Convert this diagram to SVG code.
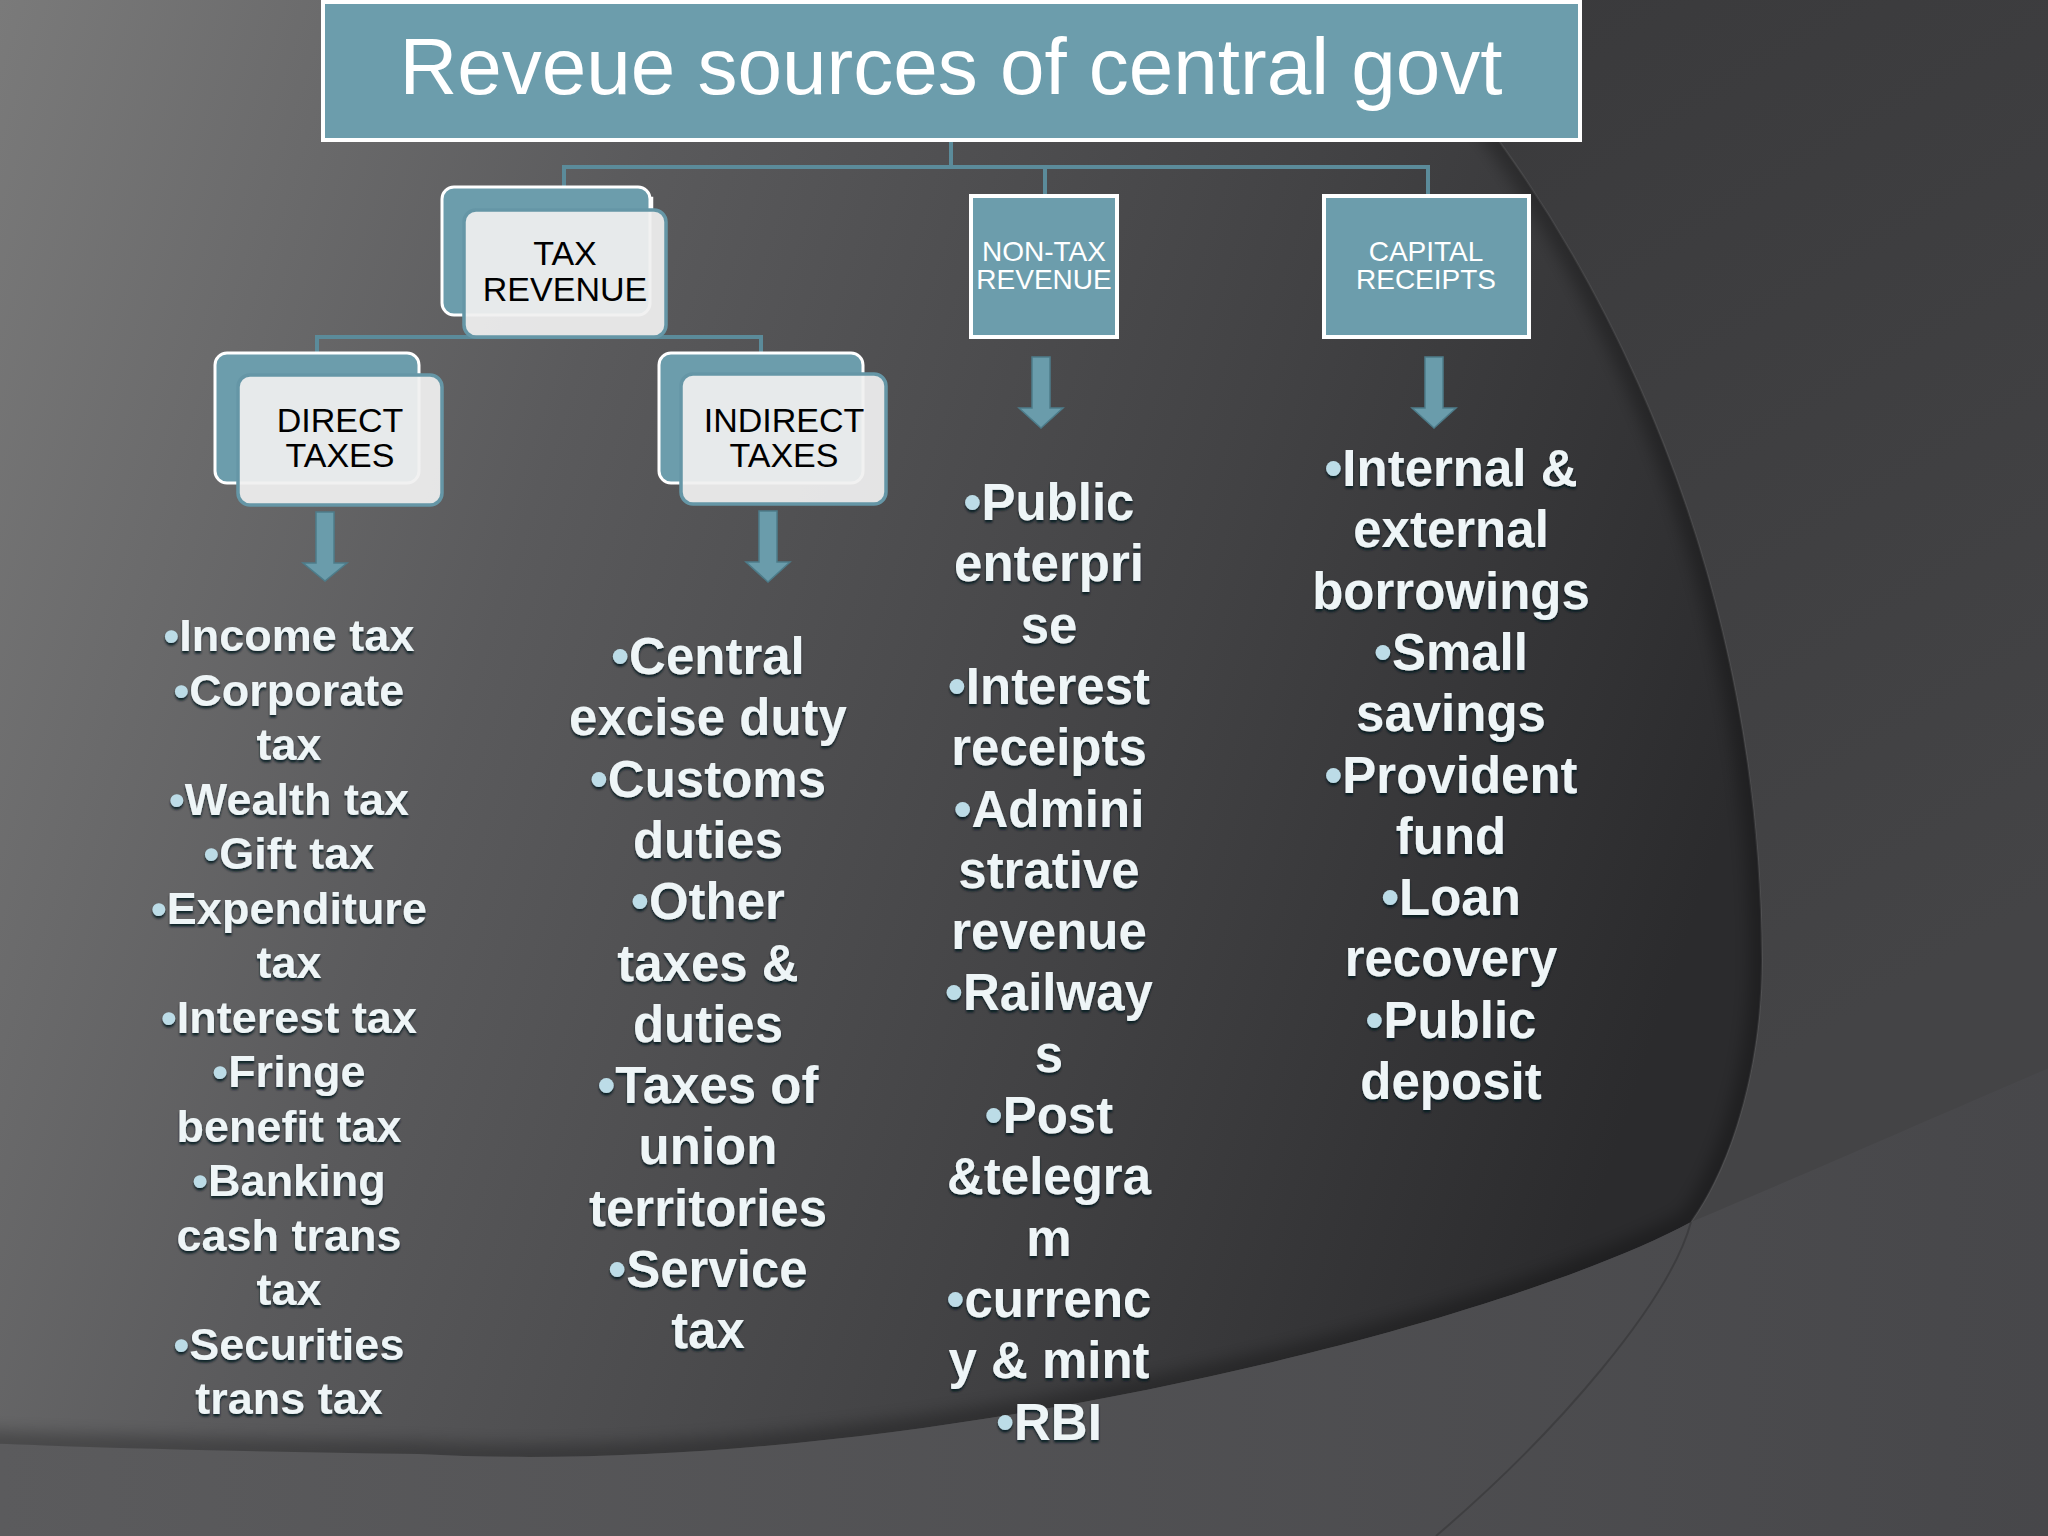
<svg xmlns="http://www.w3.org/2000/svg" width="2048" height="1536" viewBox="0 0 2048 1536">
<defs>
<style>
.node-text{font-family:"Liberation Sans",Arial,sans-serif;text-anchor:middle}
.title-text{font-family:"Liberation Sans",Arial,sans-serif;font-size:80px;fill:#ffffff;text-anchor:middle}
.back{fill:#6c9dac;stroke:#ffffff;stroke-width:3}
.front{fill:#f0f0f0;fill-opacity:0.93;stroke:#6596a6;stroke-width:3.5}
.dark{font-size:34px;fill:#000000}
.box{fill:#6c9dac;stroke:#ffffff;stroke-width:4}
.light{font-size:28px;fill:#ffffff}
.conn{fill:none;stroke:#5b8b9a;stroke-width:4}
.arrow{fill:#6a9cab;stroke:#4d7c8a;stroke-width:1.5}
.list{font-family:"Liberation Sans",Arial,sans-serif;font-weight:bold;fill:#eef5f7;text-anchor:middle;filter:url(#txtfx)}
.s45{font-size:45px}
.s51{font-size:51px}
.b{fill:#bcdce7}
</style>
<linearGradient id="bgOut" x1="1500" y1="0" x2="2048" y2="900" gradientUnits="userSpaceOnUse">
<stop offset="0" stop-color="#3a3a3c"/><stop offset="1" stop-color="#444446"/>
</linearGradient>
<linearGradient id="lensG" x1="0" y1="0" x2="1800" y2="600" gradientUnits="userSpaceOnUse">
<stop offset="0" stop-color="#7a7a7a"/><stop offset="0.35" stop-color="#5a5a5c"/><stop offset="0.7" stop-color="#424244"/><stop offset="1" stop-color="#2b2b2d"/>
</linearGradient>
<linearGradient id="bandG" x1="0" y1="0" x2="2048" y2="0" gradientUnits="userSpaceOnUse">
<stop offset="0" stop-color="#5b5b5d"/><stop offset="1" stop-color="#47474a"/>
</linearGradient>
<clipPath id="lensClip"><path d="M -20,-20 L 1360,-20 L 1380,0 C 1560,180 1760,520 1762,960 C 1762,1060 1735,1160 1691,1222 C 1500,1325 900,1480 418,1454 C 250,1452 100,1448 -20,1443 Z"/></clipPath>
<filter id="blur8" x="-10%" y="-10%" width="120%" height="120%"><feGaussianBlur stdDeviation="8"/></filter>
<filter id="txtfx" x="-10%" y="-20%" width="120%" height="140%">
<feDropShadow dx="0" dy="2.5" stdDeviation="1.2" flood-color="#06141a" flood-opacity="0.85"/>
</filter>
</defs>

<g id="background">
<rect x="0" y="0" width="2048" height="1536" fill="url(#bgOut)"/>
<path d="M -20,-20 L 1360,-20 L 1380,0 C 1560,180 1760,520 1762,960 C 1762,1060 1735,1160 1691,1222 C 1500,1325 900,1480 418,1454 C 250,1452 100,1448 -20,1443 Z" fill="url(#lensG)"/>
<g clip-path="url(#lensClip)">
<path d="M 1380,0 C 1560,180 1760,520 1762,960 C 1762,1060 1735,1160 1691,1222 C 1500,1325 900,1480 418,1454 C 250,1452 100,1448 -20,1443" fill="none" stroke="#000" stroke-opacity="0.28" stroke-width="26" filter="url(#blur8)"/>
</g>
<path d="M 1380,0 C 1560,180 1760,520 1762,960 C 1762,1060 1735,1160 1691,1222" fill="none" stroke="#ffffff" stroke-opacity="0.07" stroke-width="2"/>
<path d="M -20,1443 C 100,1448 250,1452 418,1454 C 900,1480 1500,1325 1691,1222 C 1850,1155 1950,1110 2068,1060 L 2068,1556 L -20,1556 Z" fill="url(#bandG)"/>
<path d="M 1691,1222 C 1670,1300 1560,1430 1436,1536" fill="none" stroke="#000" stroke-opacity="0.18" stroke-width="2"/>
</g>

<g id="connectors">
<path class="conn" d="M 951,140 V 167"/>
<path class="conn" d="M 564,187 V 167 H 1428 V 196"/>
<path class="conn" d="M 1045,167 V 196"/>
<path class="conn" d="M 317,352 V 337 H 761 V 353"/>
<path class="arrow" d="M 316,512 H 334 V 563 H 347 L 325,581 L 303,563 H 316 Z"/>
<path class="arrow" d="M 759,511 H 777 V 562 H 790 L 768,582 L 746,562 H 759 Z"/>
<path class="arrow" d="M 1032,357 H 1050 V 408 H 1063 L 1041,428 L 1019,408 H 1032 Z"/>
<path class="arrow" d="M 1425,357 H 1443 V 408 H 1456 L 1434,428 L 1412,408 H 1425 Z"/>
</g>

<g id="title">
<rect x="323" y="2" width="1257" height="138" fill="#6c9dac" stroke="#ffffff" stroke-width="4"/>
<text class="title-text" x="951" y="94">Reveue sources of central govt</text>
</g>

<g id="tax-revenue">
<path d="M 646,198 h 6 v 14" fill="none" stroke="#ffffff" stroke-width="2.5"/>
<rect class="back" x="442" y="187" width="208" height="128" rx="12"/>
<rect class="front" x="464" y="210" width="202" height="127" rx="12"/>
<text class="node-text dark" x="565" y="265">TAX</text>
<text class="node-text dark" x="565" y="301">REVENUE</text>
</g>

<g id="direct-taxes">
<rect class="back" x="215" y="353" width="204" height="130" rx="12"/>
<rect class="front" x="238" y="375" width="204" height="130" rx="12"/>
<text class="node-text dark" x="340" y="432">DIRECT</text>
<text class="node-text dark" x="340" y="467">TAXES</text>
</g>

<g id="indirect-taxes">
<rect class="back" x="659" y="353" width="204" height="130" rx="12"/>
<rect class="front" x="681" y="374" width="205" height="130" rx="12"/>
<text class="node-text dark" x="784" y="432">INDIRECT</text>
<text class="node-text dark" x="784" y="467">TAXES</text>
</g>

<g id="non-tax-revenue">
<rect class="box" x="971" y="196" width="146" height="141"/>
<text class="node-text light" x="1044" y="261">NON-TAX</text>
<text class="node-text light" x="1044" y="289">REVENUE</text>
</g>

<g id="capital-receipts">
<rect class="box" x="1324" y="196" width="205" height="141"/>
<text class="node-text light" x="1426" y="261">CAPITAL</text>
<text class="node-text light" x="1426" y="289">RECEIPTS</text>
</g>

<g id="direct-list">
<text class="list s45" x="289" y="651"><tspan class="b">•</tspan>Income tax</text>
<text class="list s45" x="289" y="705.5"><tspan class="b">•</tspan>Corporate</text>
<text class="list s45" x="289" y="760">tax</text>
<text class="list s45" x="289" y="814.5"><tspan class="b">•</tspan>Wealth tax</text>
<text class="list s45" x="289" y="869"><tspan class="b">•</tspan>Gift tax</text>
<text class="list s45" x="289" y="923.5"><tspan class="b">•</tspan>Expenditure</text>
<text class="list s45" x="289" y="978">tax</text>
<text class="list s45" x="289" y="1032.5"><tspan class="b">•</tspan>Interest tax</text>
<text class="list s45" x="289" y="1087"><tspan class="b">•</tspan>Fringe</text>
<text class="list s45" x="289" y="1141.5">benefit tax</text>
<text class="list s45" x="289" y="1196"><tspan class="b">•</tspan>Banking</text>
<text class="list s45" x="289" y="1250.5">cash trans</text>
<text class="list s45" x="289" y="1305">tax</text>
<text class="list s45" x="289" y="1359.5"><tspan class="b">•</tspan>Securities</text>
<text class="list s45" x="289" y="1414">trans tax</text>
</g>

<g id="indirect-list">
<text class="list s51" x="708" y="674"><tspan class="b">•</tspan>Central</text>
<text class="list s51" x="708" y="735.3">excise duty</text>
<text class="list s51" x="708" y="796.6"><tspan class="b">•</tspan>Customs</text>
<text class="list s51" x="708" y="857.9">duties</text>
<text class="list s51" x="708" y="919.2"><tspan class="b">•</tspan>Other</text>
<text class="list s51" x="708" y="980.5">taxes &amp;</text>
<text class="list s51" x="708" y="1041.8">duties</text>
<text class="list s51" x="708" y="1103.1"><tspan class="b">•</tspan>Taxes of</text>
<text class="list s51" x="708" y="1164.4">union</text>
<text class="list s51" x="708" y="1225.7">territories</text>
<text class="list s51" x="708" y="1287"><tspan class="b">•</tspan>Service</text>
<text class="list s51" x="708" y="1348.3">tax</text>
</g>

<g id="non-tax-list">
<text class="list s51" x="1049" y="520"><tspan class="b">•</tspan>Public</text>
<text class="list s51" x="1049" y="581.3">enterpri</text>
<text class="list s51" x="1049" y="642.6">se</text>
<text class="list s51" x="1049" y="703.9"><tspan class="b">•</tspan>Interest</text>
<text class="list s51" x="1049" y="765.2">receipts</text>
<text class="list s51" x="1049" y="826.5"><tspan class="b">•</tspan>Admini</text>
<text class="list s51" x="1049" y="887.8">strative</text>
<text class="list s51" x="1049" y="949.1">revenue</text>
<text class="list s51" x="1049" y="1010.4"><tspan class="b">•</tspan>Railway</text>
<text class="list s51" x="1049" y="1071.7">s</text>
<text class="list s51" x="1049" y="1133"><tspan class="b">•</tspan>Post</text>
<text class="list s51" x="1049" y="1194.3">&amp;telegra</text>
<text class="list s51" x="1049" y="1255.6">m</text>
<text class="list s51" x="1049" y="1316.9"><tspan class="b">•</tspan>currenc</text>
<text class="list s51" x="1049" y="1378.2">y &amp; mint</text>
<text class="list s51" x="1049" y="1439.5"><tspan class="b">•</tspan>RBI</text>
</g>

<g id="capital-list">
<text class="list s51" x="1451" y="486"><tspan class="b">•</tspan>Internal &amp;</text>
<text class="list s51" x="1451" y="547.3">external</text>
<text class="list s51" x="1451" y="608.6">borrowings</text>
<text class="list s51" x="1451" y="669.9"><tspan class="b">•</tspan>Small</text>
<text class="list s51" x="1451" y="731.2">savings</text>
<text class="list s51" x="1451" y="792.5"><tspan class="b">•</tspan>Provident</text>
<text class="list s51" x="1451" y="853.8">fund</text>
<text class="list s51" x="1451" y="915.1"><tspan class="b">•</tspan>Loan</text>
<text class="list s51" x="1451" y="976.4">recovery</text>
<text class="list s51" x="1451" y="1037.7"><tspan class="b">•</tspan>Public</text>
<text class="list s51" x="1451" y="1099">deposit</text>
</g>
</svg>
